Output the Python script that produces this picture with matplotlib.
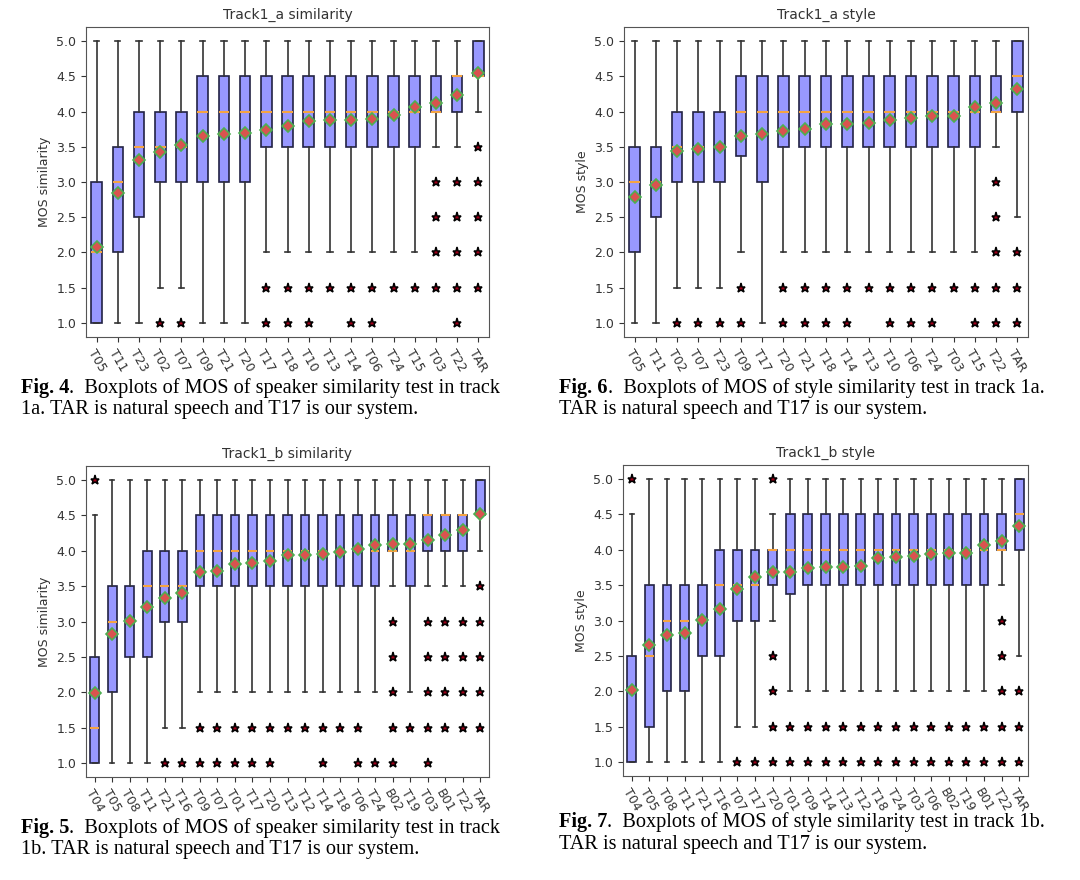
import matplotlib
matplotlib.use("Agg")
import matplotlib.pyplot as plt

# ---- Track1_a similarity (Fig. 4) ----
labels_a_sim = ["T05", "T11", "T23", "T02", "T07", "T09", "T21", "T20", "T17", "T18",
                "T10", "T13", "T14", "T06", "T24", "T15", "T03", "T22", "TAR"]
q1_a_sim = [1.0, 2.0, 2.5, 3.0, 3.0, 3.0, 3.0, 3.0, 3.5, 3.5, 3.5, 3.5, 3.5, 3.5, 3.5, 3.5, 4.0, 4.0, 4.5]
med_a_sim = [2.0, 3.0, 3.5, 3.5, 3.5, 4.0, 4.0, 4.0, 4.0, 4.0, 4.0, 4.0, 4.0, 4.0, 4.0, 4.0, 4.0, 4.5, 4.5]
q3_a_sim = [3.0, 3.5, 4.0, 4.0, 4.0, 4.5, 4.5, 4.5, 4.5, 4.5, 4.5, 4.5, 4.5, 4.5, 4.5, 4.5, 4.5, 4.5, 5.0]
lo_a_sim = [1.0, 1.0, 1.0, 1.5, 1.5, 1.0, 1.0, 1.0, 2.0, 2.0, 2.0, 2.0, 2.0, 2.0, 2.0, 2.0, 3.5, 3.5, 4.0]
hi_a_sim = [5.0] * 19
mean_a_sim = [2.08, 2.85, 3.31, 3.43, 3.52, 3.65, 3.68, 3.69, 3.74, 3.79,
              3.87, 3.88, 3.88, 3.90, 3.95, 4.07, 4.12, 4.23, 4.55]
fliers_a_sim = [[], [], [], [1.0], [1.0], [], [], [], [1.0, 1.5], [1.0, 1.5],
                [1.0, 1.5], [1.5], [1.0, 1.5], [1.0, 1.5], [1.5], [1.5],
                [1.5, 2.0, 2.5, 3.0], [1.0, 1.5, 2.0, 2.5, 3.0], [1.5, 2.0, 2.5, 3.0, 3.5]]

# ---- Track1_a style (Fig. 6) ----
labels_a_sty = ["T05", "T11", "T02", "T07", "T23", "T09", "T17", "T20", "T21", "T18",
                "T14", "T13", "T10", "T06", "T24", "T03", "T15", "T22", "TAR"]
q1_a_sty = [2.0, 2.5, 3.0, 3.0, 3.0, 3.375, 3.0, 3.5, 3.5, 3.5, 3.5, 3.5, 3.5, 3.5, 3.5, 3.5, 3.5, 4.0, 4.0]
med_a_sty = [3.0, 3.0, 3.5, 3.5, 3.5, 4.0, 4.0, 4.0, 4.0, 4.0, 4.0, 4.0, 4.0, 4.0, 4.0, 4.0, 4.0, 4.0, 4.5]
q3_a_sty = [3.5, 3.5, 4.0, 4.0, 4.0, 4.5, 4.5, 4.5, 4.5, 4.5, 4.5, 4.5, 4.5, 4.5, 4.5, 4.5, 4.5, 4.5, 5.0]
lo_a_sty = [1.0, 1.0, 1.5, 1.5, 1.5, 2.0, 1.0, 2.0, 2.0, 2.0, 2.0, 2.0, 2.0, 2.0, 2.0, 2.0, 2.0, 3.5, 2.5]
hi_a_sty = [5.0] * 19
mean_a_sty = [2.78, 2.96, 3.44, 3.47, 3.49, 3.65, 3.68, 3.72, 3.75, 3.82,
              3.83, 3.84, 3.88, 3.91, 3.93, 3.93, 4.06, 4.12, 4.32]
fliers_a_sty = [[], [], [1.0], [1.0], [1.0], [1.0, 1.5], [], [1.0, 1.5], [1.0, 1.5], [1.0, 1.5],
                [1.0, 1.5], [1.5], [1.0, 1.5], [1.0, 1.5], [1.0, 1.5], [1.5], [1.0, 1.5],
                [1.0, 1.5, 2.0, 2.5, 3.0], [1.0, 1.5, 2.0]]

# ---- Track1_b similarity (Fig. 5) ----
labels_b_sim = ["T04", "T05", "T08", "T11", "T21", "T16", "T09", "T07", "T01", "T17", "T20", "T13",
                "T12", "T14", "T18", "T06", "T24", "B02", "T19", "T03", "B01", "T22", "TAR"]
q1_b_sim = [1.0, 2.0, 2.5, 2.5, 3.0, 3.0] + [3.5] * 11 + [4.0, 3.5, 4.0, 4.0, 4.0, 4.5]
med_b_sim = [1.5, 3.0, 3.0, 3.5, 3.5, 3.5] + [4.0] * 11 + [4.0, 4.0, 4.5, 4.5, 4.5, 4.5]
q3_b_sim = [2.5, 3.5, 3.5, 4.0, 4.0, 4.0] + [4.5] * 11 + [4.5, 4.5, 4.5, 4.5, 4.5, 5.0]
lo_b_sim = [1.0, 1.0, 1.0, 1.0, 1.5, 1.5] + [2.0] * 11 + [3.5, 2.0, 3.5, 3.5, 3.5, 4.0]
hi_b_sim = [4.5] + [5.0] * 22
mean_b_sim = [1.99, 2.83, 3.01, 3.20, 3.33, 3.40, 3.70, 3.72, 3.81, 3.83, 3.86, 3.94,
              3.94, 3.96, 3.98, 4.03, 4.08, 4.10, 4.10, 4.16, 4.22, 4.30, 4.52]
fliers_b_sim = [[5.0], [], [], [], [1.0], [1.0], [1.0, 1.5], [1.0, 1.5], [1.0, 1.5], [1.0, 1.5],
                [1.0, 1.5], [1.5], [1.5], [1.0, 1.5], [1.5], [1.0, 1.5], [1.0],
                [1.0, 1.5, 2.0, 2.5, 3.0], [1.5], [1.0, 1.5, 2.0, 2.5, 3.0],
                [1.5, 2.0, 2.5, 3.0], [1.5, 2.0, 2.5, 3.0], [1.5, 2.0, 2.5, 3.0, 3.5]]

# ---- Track1_b style (Fig. 7) ----
labels_b_sty = ["T04", "T05", "T08", "T11", "T21", "T16", "T07", "T17", "T20", "T01", "T09", "T14",
                "T13", "T12", "T18", "T24", "T03", "T06", "B02", "T19", "B01", "T22", "TAR"]
q1_b_sty = [1.0, 1.5, 2.0, 2.0, 2.5, 2.5, 3.0, 3.0, 3.5, 3.375] + [3.5] * 11 + [4.0, 4.0]
med_b_sty = [2.0, 2.5, 3.0, 3.0, 3.0, 3.5, 3.5, 3.5, 4.0, 4.0] + [4.0] * 11 + [4.0, 4.5]
q3_b_sty = [2.5, 3.5, 3.5, 3.5, 3.5, 4.0, 4.0, 4.0, 4.0, 4.5] + [4.5] * 11 + [4.5, 5.0]
lo_b_sty = [1.0, 1.0, 1.0, 1.0, 1.0, 1.0, 1.5, 1.5, 3.0, 2.0] + [2.0] * 11 + [3.5, 2.5]
hi_b_sty = [4.5, 5.0, 5.0, 5.0, 5.0, 5.0, 5.0, 5.0, 4.5, 5.0] + [5.0] * 11 + [5.0, 5.0]
mean_b_sty = [2.02, 2.65, 2.79, 2.83, 3.01, 3.16, 3.45, 3.61, 3.68, 3.69, 3.74, 3.75,
              3.76, 3.77, 3.89, 3.90, 3.91, 3.94, 3.95, 3.96, 4.07, 4.13, 4.33]
fliers_b_sty = [[5.0], [], [], [], [], [], [1.0], [1.0], [1.0, 1.5, 2.0, 2.5, 5.0]] + \
               [[1.0, 1.5] for _ in range(12)] + [[1.0, 1.5, 2.0, 2.5, 3.0], [1.0, 1.5, 2.0]]


def stats_list(labels, q1, med, q3, lo, hi, mean, fliers):
    out = []
    for i in range(len(labels)):
        out.append({"label": labels[i], "q1": q1[i], "med": med[i], "q3": q3[i],
                    "whislo": lo[i], "whishi": hi[i], "mean": mean[i], "fliers": fliers[i]})
    return out


def desenha(ax, stats, titulo, ylabel):
    ax.bxp(stats, showmeans=True, patch_artist=True, widths=0.5,
           boxprops=dict(facecolor="#9898ff", edgecolor="#222244", linewidth=1.2),
           medianprops=dict(color="#f5a442", linewidth=1.5),
           meanprops=dict(marker="D", markerfacecolor="#d9534f", markeredgecolor="#4caf50",
                          markersize=6.5, markeredgewidth=1.2),
           flierprops=dict(marker="*", markerfacecolor="#a0001a", markeredgecolor="black",
                           markersize=6.5, markeredgewidth=1.1),
           whiskerprops=dict(color="#333333", linewidth=1.2),
           capprops=dict(color="#333333", linewidth=1.2))
    ax.set_title(titulo, fontsize=10, color="#333333")
    ax.set_ylabel(ylabel, fontsize=9, color="#333333")
    ax.set_ylim(0.8, 5.2)
    ax.set_yticks([1.0, 1.5, 2.0, 2.5, 3.0, 3.5, 4.0, 4.5, 5.0])
    ax.tick_params(axis="y", labelsize=9, colors="#333333")
    ax.tick_params(axis="x", labelsize=9, labelrotation=-60, colors="#333333")
    for s in ax.spines.values():
        s.set_color("#555555")


def legenda(fig, x, y, numero, resto, linha2, passo=22):
    r = fig.canvas.get_renderer()
    t = fig.text(x, y, numero, fontsize=14.6, fontweight="bold", family="Liberation Serif",
                 va="top", ha="left")
    bb = t.get_window_extent(renderer=r)
    x2 = bb.x1 / fig.bbox.width
    fig.text(x2, y, resto, fontsize=14.6, family="Liberation Serif", va="top", ha="left")
    fig.text(x, y - passo / 880, linha2, fontsize=14.6, family="Liberation Serif", va="top", ha="left")


fig = plt.figure(figsize=(10.8, 8.8), dpi=100)

ax1 = fig.add_axes([86 / 1080, 1 - 337 / 880, 403 / 1080, 310 / 880])
ax2 = fig.add_axes([624 / 1080, 1 - 337 / 880, 404 / 1080, 310 / 880])
ax3 = fig.add_axes([86 / 1080, 1 - 777 / 880, 403 / 1080, 311 / 880])
ax4 = fig.add_axes([623 / 1080, 1 - 776 / 880, 405 / 1080, 311 / 880])

desenha(ax1, stats_list(labels_a_sim, q1_a_sim, med_a_sim, q3_a_sim, lo_a_sim, hi_a_sim,
                        mean_a_sim, fliers_a_sim), "Track1_a similarity", "MOS similarity")
desenha(ax2, stats_list(labels_a_sty, q1_a_sty, med_a_sty, q3_a_sty, lo_a_sty, hi_a_sty,
                        mean_a_sty, fliers_a_sty), "Track1_a style", "MOS style")
desenha(ax3, stats_list(labels_b_sim, q1_b_sim, med_b_sim, q3_b_sim, lo_b_sim, hi_b_sim,
                        mean_b_sim, fliers_b_sim), "Track1_b similarity", "MOS similarity")
desenha(ax4, stats_list(labels_b_sty, q1_b_sty, med_b_sty, q3_b_sty, lo_b_sty, hi_b_sty,
                        mean_b_sty, fliers_b_sty), "Track1_b style", "MOS style")

#legendas das figuras
legenda(fig, 21 / 1080, 1 - 378 / 880, "Fig. 4",
        ".  Boxplots of MOS of speaker similarity test in track",
        "1a. TAR is natural speech and T17 is our system.")
legenda(fig, 559 / 1080, 1 - 378 / 880, "Fig. 6",
        ".  Boxplots of MOS of style similarity test in track 1a.",
        "TAR is natural speech and T17 is our system.")
legenda(fig, 21 / 1080, 1 - 818 / 880, "Fig. 5",
        ".  Boxplots of MOS of speaker similarity test in track",
        "1b. TAR is natural speech and T17 is our system.")
legenda(fig, 559 / 1080, 1 - 812 / 880, "Fig. 7",
        ".  Boxplots of MOS of style similarity test in track 1b.",
        "TAR is natural speech and T17 is our system.", passo=23)

fig.savefig("out.png", dpi=100)
